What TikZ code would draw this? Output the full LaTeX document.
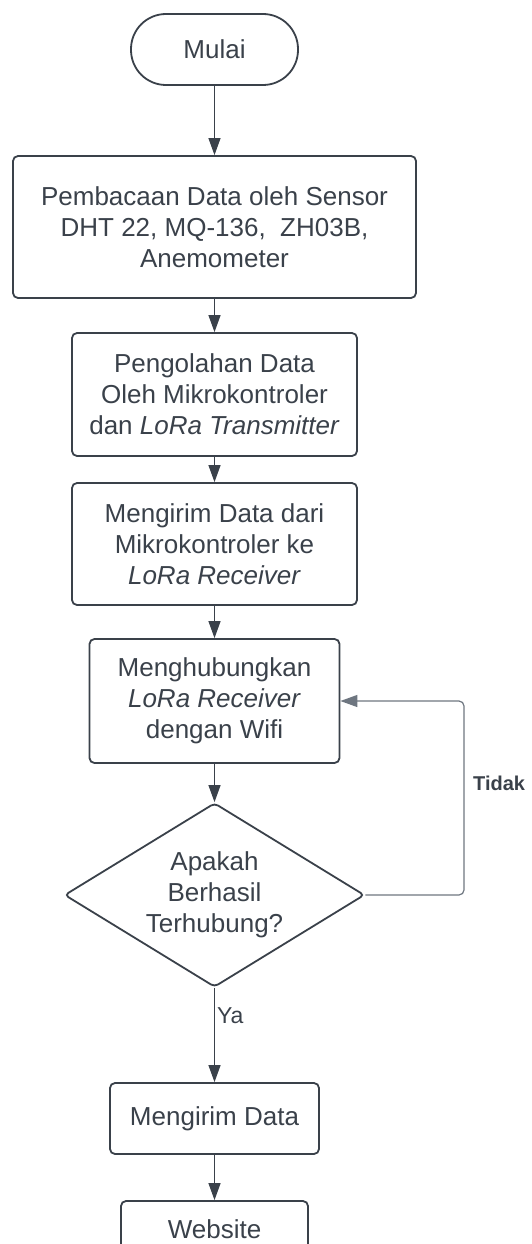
\documentclass[tikz,border=0pt]{standalone}
\usepackage{fontspec}
\setmainfont{Liberation Sans}
\usetikzlibrary{arrows.meta,positioning,shapes.geometric}
\definecolor{ink}{RGB}{58,65,74}
\definecolor{loopc}{RGB}{110,118,128}

\begin{document}
\begin{tikzpicture}[x=1pt,y=-1pt,
  every node/.style={font=\fontsize{26}{31}\selectfont,text=ink,align=center,inner sep=0pt},
  procbox/.style={draw=ink,line width=1.8pt,rounded corners=5pt,rectangle},
  startbox/.style={draw=ink,line width=1.8pt,rounded corners=35pt,rectangle,minimum width=167pt,minimum height=71pt},
  decbox/.style={draw=ink,line width=1.8pt,diamond,aspect=1.63,minimum width=300pt,minimum height=184pt,rounded corners=4pt},
  flowarrow/.style={draw=ink,line width=1.2pt,-{Triangle[length=17pt,width=12pt]}}]
  \useasboundingbox (0,0) rectangle (531,1244);

  \node[startbox] (mulai) at (214.5,49.5) {Mulai};
  \node[procbox,minimum width=403pt,minimum height=142pt] (baca) at (214.5,227)
    {Pembacaan Data oleh Sensor\\DHT 22, MQ-136,\ \ ZH03B,\\Anemometer};
  \node[procbox,minimum width=285pt,minimum height=123pt] (olah) at (214.5,394.5)
    {Pengolahan Data\\Oleh Mikrokontroler\\dan \textit{LoRa Transmitter}};
  \node[procbox,minimum width=285pt,minimum height=122pt] (kirim) at (214.5,544)
    {Mengirim Data dari\\Mikrokontroler ke\\\textit{LoRa Receiver}};
  \node[procbox,minimum width=250pt,minimum height=124pt] (hubung) at (214.5,701)
    {Menghubungkan\\\textit{LoRa Receiver}\\dengan Wifi};
  \node[decbox] (cek) at (214.5,895) {Apakah\\Berhasil\\Terhubung?};
  \node[procbox,minimum width=209pt,minimum height=71pt] (data) at (214.5,1118.5) {Mengirim Data};
  \node[procbox,minimum width=187pt,minimum height=56pt] (web) at (214.5,1229) {Website};

  \coordinate (loopa) at (464,895);
  \coordinate (loopb) at (464,701);

  \draw[flowarrow] (mulai) -- (baca);
  \draw[flowarrow] (baca) -- (olah);
  \draw[flowarrow] (olah) -- (kirim);
  \draw[flowarrow] (kirim) -- (hubung);
  \draw[flowarrow] (hubung) -- (cek);
  \draw[flowarrow] (cek) -- (data) node[pos=0.3,right=2pt,font=\fontsize{23}{27}\selectfont] (ya) {Ya};
  \draw[flowarrow] (data) -- (web);
  \draw[flowarrow,draw=loopc,rounded corners=5pt] (cek.east) -- (loopa) -- (loopb) -- (hubung.east);
  \node[font=\fontsize{20}{24}\selectfont\bfseries,anchor=west] (tidak) at (473,783) {Tidak};
\end{tikzpicture}
\end{document}
